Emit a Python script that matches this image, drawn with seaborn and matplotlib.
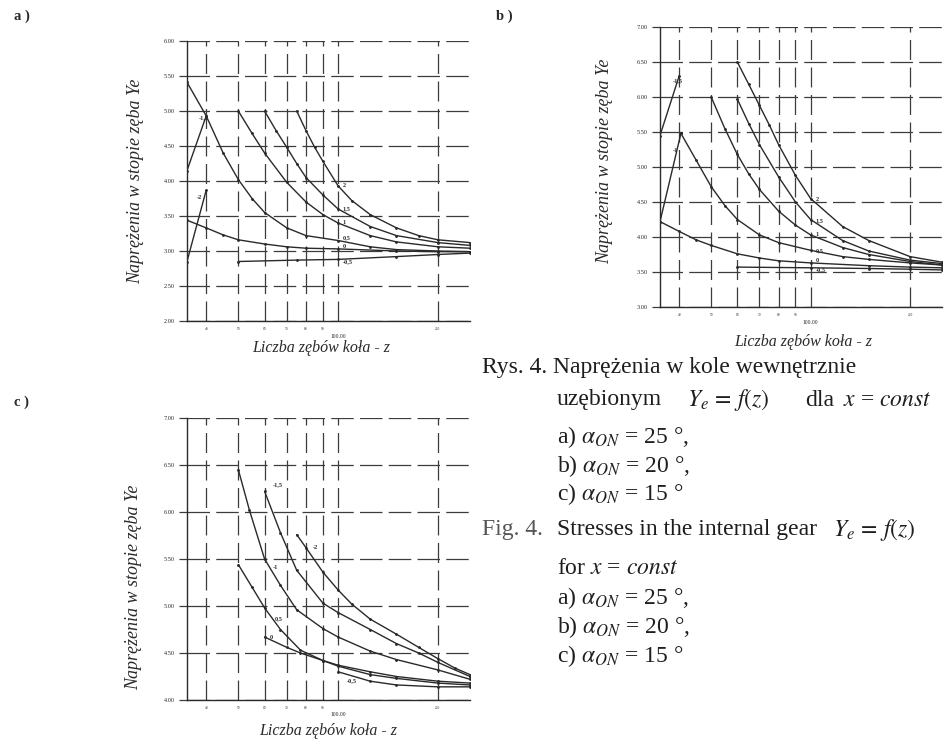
import matplotlib
matplotlib.use("Agg")
import matplotlib.pyplot as plt
import numpy as np
import pandas as pd
import seaborn as sns
from matplotlib.ticker import FormatStrFormatter

# x = const curves (z = number of teeth, Ye = stress factor)
a_labels = ["2", "1,5", "1", "0,5", "0", "-0,5", "-1,5", "-2"]
a_z = [
    [75, 80, 85, 90, 100, 110, 125, 150, 175, 200, 250],
    [60, 65, 70, 75, 80, 90, 100, 125, 150, 200, 250],
    [50, 55, 60, 70, 80, 90, 100, 125, 150, 200, 250],
    [35, 40, 45, 50, 55, 60, 70, 80, 100, 125, 150, 200, 250],
    [35, 40, 45, 50, 60, 70, 80, 100, 150, 200, 250],
    [50, 75, 100, 150, 200, 250],
    [35, 40],
    [35, 40],
]
a_y = [
    [5.0, 4.72, 4.48, 4.28, 3.93, 3.72, 3.52, 3.33, 3.22, 3.16, 3.12],
    [5.0, 4.72, 4.48, 4.25, 4.05, 3.8, 3.6, 3.35, 3.22, 3.12, 3.08],
    [5.0, 4.68, 4.4, 3.98, 3.7, 3.52, 3.4, 3.22, 3.13, 3.06, 3.04],
    [5.41, 4.93, 4.4, 4.02, 3.75, 3.55, 3.33, 3.22, 3.15, 3.06, 3.02, 3.0, 2.99],
    [3.44, 3.33, 3.23, 3.16, 3.1, 3.06, 3.04, 3.03, 3.0, 2.99, 2.99],
    [2.85, 2.87, 2.88, 2.92, 2.95, 2.97],
    [4.15, 4.93],
    [2.85, 3.87],
]
a_yticks = [2.0, 2.5, 3.0, 3.5, 4.0, 4.5, 5.0, 5.5, 6.0]

b_labels = ["2", "1,5", "1", "0,5", "0", "-0,5", "-1,5", "-1"]
b_z = [
    [60, 65, 70, 75, 80, 90, 100, 125, 150, 200, 250],
    [60, 65, 70, 80, 90, 100, 125, 150, 200, 250],
    [50, 55, 60, 65, 70, 80, 90, 100, 125, 150, 200, 250],
    [40.5, 45, 50, 55, 60, 70, 80, 100, 125, 150, 200, 250],
    [35, 40, 45, 50, 60, 70, 80, 100, 150, 200, 250],
    [60, 100, 150, 200, 250],
    [35, 40],
    [35, 40.5],
]
b_y = [
    [6.5, 6.18, 5.88, 5.6, 5.32, 4.88, 4.55, 4.15, 3.95, 3.72, 3.64],
    [5.97, 5.62, 5.32, 4.86, 4.5, 4.25, 3.95, 3.8, 3.67, 3.62],
    [6.0, 5.55, 5.18, 4.9, 4.68, 4.37, 4.17, 4.03, 3.85, 3.75, 3.65, 3.6],
    [5.48, 5.1, 4.72, 4.45, 4.25, 4.03, 3.92, 3.81, 3.72, 3.68, 3.63, 3.6],
    [4.22, 4.08, 3.96, 3.88, 3.76, 3.7, 3.66, 3.63, 3.59, 3.57, 3.56],
    [3.57, 3.56, 3.55, 3.54, 3.53],
    [5.45, 6.3],
    [4.22, 5.48],
]
b_yticks = [3.0, 3.5, 4.0, 4.5, 5.0, 5.5, 6.0, 6.5, 7.0]

c_labels = ["-2", "-1,5", "-1", "0,5", "0", "-0,5"]
c_z = [
    [75, 80, 90, 100, 110, 125, 150, 175, 200, 225, 250],
    [60, 67, 75, 90, 100, 125, 150, 175, 200, 250],
    [50, 54, 60, 67, 75, 90, 100, 125, 150, 200, 250],
    [50, 55, 60, 67, 77, 90, 100, 125, 150, 200, 250],
    [60, 70, 77, 90, 100, 125, 150, 200, 250],
    [100, 125, 150, 200, 250],
]
c_y = [
    [5.76, 5.62, 5.36, 5.17, 5.02, 4.86, 4.7, 4.56, 4.44, 4.34, 4.27],
    [6.22, 5.78, 5.38, 5.03, 4.93, 4.75, 4.6, 4.5, 4.4, 4.25],
    [6.45, 6.02, 5.5, 5.22, 4.96, 4.76, 4.67, 4.52, 4.43, 4.32, 4.22],
    [5.44, 5.2, 4.98, 4.75, 4.53, 4.42, 4.36, 4.27, 4.23, 4.18, 4.16],
    [4.67, 4.56, 4.5, 4.42, 4.37, 4.3, 4.25, 4.2, 4.18],
    [4.3, 4.2, 4.16, 4.14, 4.14],
]
c_yticks = [4.0, 4.5, 5.0, 5.5, 6.0, 6.5, 7.0]

x_major = [100]
x_minor = [40, 50, 60, 70, 80, 90, 200]

# where the little x-value tags sit (layout only)
a_tag_at = [(103, 3.94), (103, 3.6), (103, 3.4), (103, 3.19), (103, 3.06), (103, 2.85), (38, 4.9), (37.5, 3.77)]
b_tag_at = [(103.5, 4.53), (103.5, 4.24), (103.5, 4.03), (103.5, 3.81), (103.5, 3.67), (103.5, 3.53), (38.3, 6.24), (38.3, 5.24)]
c_tag_at = [(83.9, 5.62), (63.4, 6.29), (63.4, 5.41), (64.3, 4.87), (62, 4.67), (106, 4.21)]

sns.set_style("white")
plt.rcParams["font.family"] = ["Liberation Serif", "DejaVu Serif"]
plt.rcParams["mathtext.fontset"] = "stix"

INK = "#2a2a2a"
GRID = "#3c3c3c"
W, H = 947, 745


def frame(labels, zs, ys):
    rows = []
    for lab, z, y in zip(labels, zs, ys):
        rows += [{"x": lab, "z": zi, "Ye": yi} for zi, yi in zip(z, y)]
    return pd.DataFrame(rows)


def panel(fig, box, labels, zs, ys, yticks, tags, xlab_pos, ylab_pos):
    left, top, right, bottom = box
    ax = fig.add_axes([left / W, 1 - bottom / H, (right - left) / W, (bottom - top) / H])
    df = frame(labels, zs, ys)
    sns.lineplot(data=df, x="z", y="Ye", units="x", estimator=None, sort=False,
                 color=INK, lw=1.0, marker=".", markersize=2.5, mec=INK, legend=False, ax=ax)
    ax.set_xscale("log")
    ax.set_xlim(35, 250)
    ax.set_ylim(yticks[0], yticks[-1])
    ax.set_yticks(yticks)
    ax.yaxis.set_major_formatter(FormatStrFormatter("%.2f"))
    ax.set_xticks(x_major, labels=["100.00"])
    ax.set_xticks(x_minor, labels=[str(v) for v in x_minor], minor=True)
    ax.tick_params(axis="y", length=6, width=0.9, color=GRID, labelsize=4.5, pad=3, left=True)
    ax.tick_params(axis="x", which="major", length=0, labelsize=4, pad=9)
    ax.tick_params(axis="x", which="minor", length=0, labelsize=2.5, pad=4)
    ax.yaxis.grid(True, color=GRID, lw=0.9, ls=(0, (18, 5)))
    ax.xaxis.grid(True, which="both", color=GRID, lw=0.9, ls=(0, (16, 6)))
    for side in ["top", "right"]:
        ax.spines[side].set_visible(False)
    for side in ["left", "bottom"]:
        ax.spines[side].set_color(INK)
        ax.spines[side].set_linewidth(1.0)
    for lab, (tz, ty) in zip(labels, tags):
        ax.text(tz, ty, lab, fontsize=4.5, fontweight="bold", color=INK, va="center", ha="left")
    ax.set_xlabel("Liczba zębów koła - z", fontsize=11.5, style="italic", color=INK)
    ax.set_ylabel("Naprężenia w stopie zęba Ye", fontsize=13, style="italic", color=INK)
    ax.xaxis.set_label_coords(*xlab_pos)
    ax.xaxis.label.set_va("center")
    ax.yaxis.set_label_coords(*ylab_pos)
    ax.yaxis.label.set_va("center")
    return ax


fig = plt.figure(figsize=(W / 100, H / 100), dpi=100)

panel(fig, (187, 41, 470, 321), a_labels, a_z, a_y, a_yticks, a_tag_at, (0.473, -0.095), (-0.18, 0.5))
panel(fig, (660, 27, 942, 307), b_labels, b_z, b_y, b_yticks, b_tag_at, (0.507, -0.125), (-0.195, 0.52))
panel(fig, (187, 418, 470, 700), c_labels, c_z, c_y, c_yticks, c_tag_at, (0.50, -0.11), (-0.19, 0.40))

for tag, (px, py) in {"a )": (14, 16), "b )": (496, 16), "c )": (14, 402)}.items():
    fig.text(px / W, 1 - py / H, tag, fontsize=10.5, fontweight="bold", color=INK, va="center")


def put(px, py, s, **kw):
    fig.text(px / W, 1 - py / H, s, fontsize=17, color="#1e1e1e", va="center", **kw)


put(482, 368, "Rys. 4. Naprężenia w kole wewnętrznie")
put(557, 400, "uzębionym")
put(687, 400, r"$Y_e\,=\,f\left(z\right)$")
put(805, 400, "dla")
put(843, 400, r"$x$ = $const$")
put(557, 437, r"a) $\alpha_{ON}$ = 25 °,")
put(557, 466, r"b) $\alpha_{ON}$ = 20 °,")
put(557, 494, r"c) $\alpha_{ON}$ = 15 °")
put(482, 530, "Fig. 4.", alpha=0.75)
put(557, 530, "Stresses in the internal gear")
put(833, 530, r"$Y_e\,=\,f\left(z\right)$")
put(557, 568, r"for $x$ = $const$")
put(557, 598, r"a) $\alpha_{ON}$ = 25 °,")
put(557, 627, r"b) $\alpha_{ON}$ = 20 °,")
put(557, 656, r"c) $\alpha_{ON}$ = 15 °")

fig.savefig("out.png", dpi=100)
plt.close(fig)
